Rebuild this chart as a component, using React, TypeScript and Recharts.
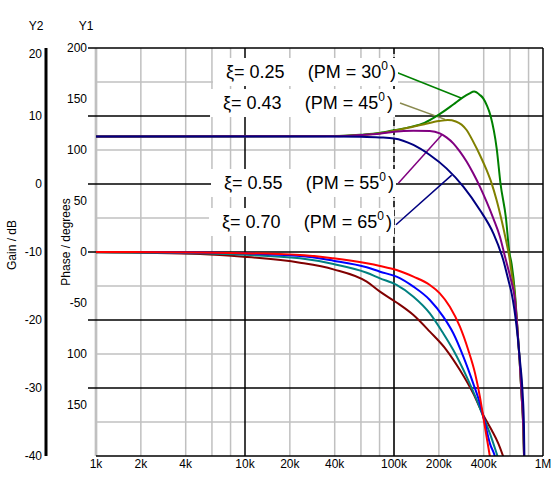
import React from 'react';
import { ComposedChart, Line, XAxis, YAxis, ReferenceLine, ReferenceDot, Label } from 'recharts';

const FONT = 'Arial, "Liberation Sans", sans-serif';

// axis ids: Y1 (phase) sits next to the plot, Y2 (gain) outside it
const Y1 = 'y1';
const Y2 = 'y2';

// ---------- axes ----------
const xTicks = [1000, 2000, 4000, 10000, 20000, 40000, 100000, 200000, 400000, 1000000];
const xTickLabels = ['1k', '2k', '4k', '10k', '20k', '40k', '100k', '200k', '400k', '1M'];
const xMinorGrid = [1000, 2000, 4000, 6000, 8000, 20000, 40000, 60000, 80000, 200000, 400000, 600000, 800000];
const xMajorGrid = [10000, 1000000];
const xDashedDecade = 100000;

const phaseTicks = [200, 150, 100, 50, 0, -50, -100, -150];
const phaseTickLabels = ['200', '150', '100', '50', '0', '-50', '100', '150'];
const gainTicks = [20, 10, 0, -10, -20, -30, -40];
const gainMinorGrid = [15, 5, -5, -15, -25, -35];
const gainMajorGrid = [20, 10, 0, -10, -20, -30];

// ---------- gain curves (dB) ----------
const gain025F = [1000, 40000, 60000, 80000, 100000, 130000, 160000, 200000, 250000, 290000, 320000, 345000, 377000, 397000, 419000, 445000, 489000, 519000, 564000, 594000, 616000, 648000, 672000, 697000, 718000, 737000, 746000, 760000];
const gain025V = [7, 7.05, 7.25, 7.5, 7.9, 8.4, 9.0, 10.2, 11.7, 12.75, 13.3, 13.6, 13.1, 12.6, 11.6, 10, 5.2, 0, -5, -10, -11.8, -16, -21, -26, -31, -35.7, -40, -46];

const gain043F = [1000, 40000, 60000, 80000, 100000, 130000, 160000, 200000, 230000, 260000, 307000, 340000, 377000, 418000, 452000, 488000, 527000, 564000, 594000, 616000, 648000, 672000, 697000, 718000, 737000, 746000, 760000];
const gain043V = [7, 7.05, 7.2, 7.45, 7.85, 8.35, 8.8, 9.25, 9.4, 9.2, 7.94, 6.23, 4.27, 2.06, 0.1, -2.35, -5.3, -8.24, -10.7, -13.1, -16.5, -21, -26, -31, -35.7, -40, -46];

const gain055F = [1000, 40000, 60000, 80000, 100000, 135000, 174000, 203000, 225000, 250000, 277000, 307000, 340000, 377000, 418000, 464000, 514000, 556000, 594000, 616000, 648000, 672000, 697000, 718000, 737000, 746000, 760000];
const gain055V = [7, 7.02, 7.2, 7.4, 7.7, 7.84, 7.8, 7.45, 6.86, 5.98, 4.76, 3.3, 1.57, -0.39, -2.6, -5.05, -7.75, -10.7, -13.1, -14.5, -17, -21, -26, -31, -35.7, -40, -46];

const gain070F = [1000, 40000, 60000, 80000, 100000, 135000, 174000, 225000, 292000, 377000, 464000, 541000, 585000, 616000, 665000, 700000, 730000, 745000, 750000, 760000];
const gain070V = [7, 7, 6.95, 6.85, 6.7, 5.74, 4.26, 2.3, -0.39, -3.82, -7.25, -11.18, -14.1, -16.08, -21, -25.9, -30.8, -35.7, -40, -46];

// ---------- phase curves (degrees) ----------
const phaseRedF = [1000, 5000, 23400, 39200, 65600, 80500, 104000, 135000, 174000, 203000, 237000, 277000, 315000, 350000, 377000, 397000, 418000, 440000, 460000];
const phaseRedV = [0, -0.5, -2.9, -6.2, -11.1, -13.7, -17.6, -24.2, -32.3, -40.5, -53.6, -73.2, -96.1, -119, -141.8, -161.4, -181, -200.6, -220];

const phaseBlueF = [1000, 5000, 23400, 39200, 65600, 80500, 104000, 135000, 174000, 214000, 250000, 292000, 340000, 377000, 408000, 440000, 476000, 500000];
const phaseBlueV = [0, -0.6, -3.9, -8.5, -15, -19.3, -24.2, -34, -47, -63.4, -79.7, -102.6, -128.8, -148.4, -168, -187.6, -200.6, -215];

const phaseTealF = [1000, 5000, 8360, 23400, 39200, 65600, 80500, 104000, 135000, 174000, 214000, 250000, 307000, 359000, 397000, 440000, 488000, 520000];
const phaseTealV = [-0.2, -1.3, -2.3, -6.2, -11.8, -20.3, -25.8, -32.3, -43.8, -60.1, -79.7, -96.1, -122.2, -145, -161.4, -177.8, -197.4, -210];

const phaseBrownF = [1000, 5000, 9760, 23400, 39200, 65600, 80500, 104000, 135000, 174000, 225000, 277000, 340000, 397000, 452000, 501000, 541000, 560000];
const phaseBrownV = [-0.3, -2.0, -4.6, -10.5, -17, -29.1, -38.9, -49.5, -61.8, -78.1, -96.1, -115.7, -138.6, -159.8, -174.5, -187.6, -200.6, -207];

// ---------- annotations ----------
const annotationLeftTexts = ['ξ= 0.25', 'ξ= 0.43', 'ξ= 0.55', 'ξ= 0.70'];
const annotationRightTexts = ['(PM = 30', '(PM = 45', '(PM = 55', '(PM = 65'];
const annotationColors = ['#008000', '#8a8a50', '#800080', '#000080'];
const annotationLabelF = [103100, 98500, 100000, 97000];
const annotationLabelG = [16.47, 11.91, 0.15, -5.59];
const annotationStartF = [101600, 109700, 106900, 103100];
const annotationStartG = [16.5, 11.9, 0.1, -6.0];
const annotationEndF = [284600, 219900, 209000, 243900];
const annotationEndG = [12.6, 9.5, 7.2, 1.3];

const toPoints = (f: number[], v: number[]) => f.map((x, i) => ({ f: x, v: v[i] }));

const gainSeries = [
  { key: 'g025', color: '#008000', data: toPoints(gain025F, gain025V) },
  { key: 'g043', color: '#808000', data: toPoints(gain043F, gain043V) },
  { key: 'g055', color: '#800080', data: toPoints(gain055F, gain055V) },
  { key: 'g070', color: '#000080', data: toPoints(gain070F, gain070V) },
];
const phaseSeries = [
  { key: 'pbrown', color: '#800000', data: toPoints(phaseBrownF, phaseBrownV) },
  { key: 'pteal', color: '#008080', data: toPoints(phaseTealF, phaseTealV) },
  { key: 'pblue', color: '#0000ff', data: toPoints(phaseBlueF, phaseBlueV) },
  { key: 'pred', color: '#ff0000', data: toPoints(phaseRedF, phaseRedV) },
];

const ExtendedLine = (p: any) => {
  const left = Math.min(p.x1, p.x2) - 8;
  const right = Math.max(p.x1, p.x2);
  return <line x1={left} y1={p.y1} x2={right} y2={p.y2} stroke="#000" strokeWidth={1.5} />;
};

const makeAnnotationShape = (leftText: string, rightText: string) => (p: any) => {
  const cx = p.cx;
  const cy = p.cy;
  return (
    <g fontFamily={FONT} fill="#000">
      <rect x={cx - 183} y={cy - 14} width={185} height={28} fill="#fff" />
      <text x={cx - 170} y={cy + 6} textAnchor="start" fontSize={18}>{leftText}</text>
      <text x={cx} y={cy + 6} textAnchor="end" fontSize={18}>
        {rightText}
        <tspan fontSize={12} dy={-8}>0</tspan>
        <tspan dy={8} dx={2}>)</tspan>
      </text>
    </g>
  );
};

const GainAxisTitle = (props: any) => {
  const vb = props.viewBox || { x: 0, y: 48, width: 46, height: 408 };
  const cy = vb.y + vb.height / 2 - 7;
  const tx = vb.x + 12;
  return (
    <g fontFamily={FONT} fontSize={12} fill="#000">
      <text x={tx} y={cy} textAnchor="middle" transform={`rotate(-90 ${tx} ${cy})`} dy={4}>Gain / dB</text>
      <text x={vb.x + 36} y={vb.y - 22} textAnchor="middle" dy={4}>Y2</text>
    </g>
  );
};

const PhaseAxisTitle = (props: any) => {
  const vb = props.viewBox || { x: 46, y: 48, width: 50, height: 408 };
  const cy = vb.y + vb.height / 2 - 10;
  const tx = vb.x + 20;
  return (
    <g fontFamily={FONT} fontSize={12} fill="#000">
      <text x={tx} y={cy} textAnchor="middle" transform={`rotate(-90 ${tx} ${cy})`} dy={4}>Phase / degrees</text>
      <text x={vb.x + 40} y={vb.y - 22} textAnchor="middle" dy={4}>Y1</text>
    </g>
  );
};

const GainTick = (p: any) => {
  const v = p.payload.value;
  const dy = v === gainTicks[0] ? 10 : 4;
  return (
    <text x={p.x} y={p.y} dy={dy} textAnchor="end" fontSize={12} fontFamily={FONT} fill="#000">{v}</text>
  );
};

export default function App() {
  return (
    <div style={{ position: 'absolute', left: 0, top: 0, width: 558, height: 481, background: '#fff' }}>
      <ComposedChart width={558} height={481} margin={{ top: 48, right: 15, bottom: 0, left: 0 }} style={{ fontFamily: FONT }}>
        <XAxis
          xAxisId={0}
          dataKey="f"
          type="number"
          scale="log"
          domain={[1000, 1000000]}
          ticks={xTicks}
          interval={0}
          allowDataOverflow
          tickFormatter={(v: number) => xTickLabels[xTicks.indexOf(v)]}
          axisLine={{ stroke: '#000', strokeWidth: 1.5 }}
          tickLine={false}
          tickSize={0}
          tickMargin={3}
          height={25}
          tick={{ fontSize: 12, fill: '#000', fontFamily: FONT }}
        />
        <YAxis
          yAxisId={Y1}
          orientation="left"
          type="number"
          domain={[-200, 200]}
          ticks={phaseTicks}
          interval={0}
          allowDataOverflow
          tickFormatter={(v: number) => phaseTickLabels[phaseTicks.indexOf(v)]}
          axisLine={false}
          tickLine={false}
          tickSize={0}
          tickMargin={9}
          width={50}
          tick={{ fontSize: 12, fill: '#000', fontFamily: FONT }}
          label={<Label content={<PhaseAxisTitle />} />}
        />
        <YAxis
          yAxisId={Y2}
          orientation="left"
          type="number"
          domain={[-40, 20]}
          ticks={gainTicks}
          interval={0}
          allowDataOverflow
          axisLine={{ stroke: '#000', strokeWidth: 3 }}
          tickLine={false}
          tickSize={0}
          tickMargin={4}
          width={46}
          tick={<GainTick />}
          label={<Label content={<GainAxisTitle />} />}
        />

        {xMinorGrid.map((x) => (
          <ReferenceLine key={'vx' + x} x={x} yAxisId={Y2} stroke="#c0c0c0" strokeWidth={x === xTicks[0] ? 2.7 : 1.5} />
        ))}
        <ReferenceLine x={xDashedDecade} yAxisId={Y2} stroke="#c0c0c0" strokeWidth={1.5} />
        {gainMinorGrid.map((y) => (
          <ReferenceLine key={'hy' + y} y={y} yAxisId={Y2} stroke="#c0c0c0" strokeWidth={1.5} />
        ))}
        {xMajorGrid.map((x) => (
          <ReferenceLine key={'vX' + x} x={x} yAxisId={Y2} stroke="#000" strokeWidth={1.5} />
        ))}
        <ReferenceLine
          segment={[{ x: xDashedDecade, y: gainMajorGrid[0] }, { x: xDashedDecade, y: gainMajorGrid[3] }]}
          yAxisId={Y2}
          stroke="#000"
          strokeWidth={1.5}
          strokeDasharray="6 3"
        />
        <ReferenceLine
          segment={[{ x: xDashedDecade, y: gainMajorGrid[3] }, { x: xDashedDecade, y: gainTicks[gainTicks.length - 1] }]}
          yAxisId={Y2}
          stroke="#000"
          strokeWidth={1.5}
        />
        {gainMajorGrid.map((y) => (
          <ReferenceLine key={'hY' + y} y={y} yAxisId={Y2} shape={ExtendedLine} />
        ))}

        {annotationLeftTexts.map((t, i) => (
          <ReferenceDot
            key={'ann' + i}
            x={annotationLabelF[i]}
            y={annotationLabelG[i]}
            yAxisId={Y2}
            r={0}
            shape={makeAnnotationShape(t, annotationRightTexts[i])}
          />
        ))}
        {annotationLeftTexts.map((t, i) => (
          <ReferenceLine
            key={'ptr' + i}
            segment={[{ x: annotationStartF[i], y: annotationStartG[i] }, { x: annotationEndF[i], y: annotationEndG[i] }]}
            yAxisId={Y2}
            stroke={annotationColors[i]}
            strokeWidth={1.5}
          />
        ))}

        {phaseSeries.map((s) => (
          <Line
            key={s.key}
            data={s.data}
            dataKey="v"
            xAxisId={0}
            yAxisId={Y1}
            type="monotone"
            stroke={s.color}
            strokeWidth={2}
            dot={false}
            activeDot={false}
            isAnimationActive={false}
          />
        ))}
        {gainSeries.map((s) => (
          <Line
            key={s.key}
            data={s.data}
            dataKey="v"
            xAxisId={0}
            yAxisId={Y2}
            type="monotone"
            stroke={s.color}
            strokeWidth={2}
            dot={false}
            activeDot={false}
            isAnimationActive={false}
          />
        ))}
      </ComposedChart>
    </div>
  );
}
